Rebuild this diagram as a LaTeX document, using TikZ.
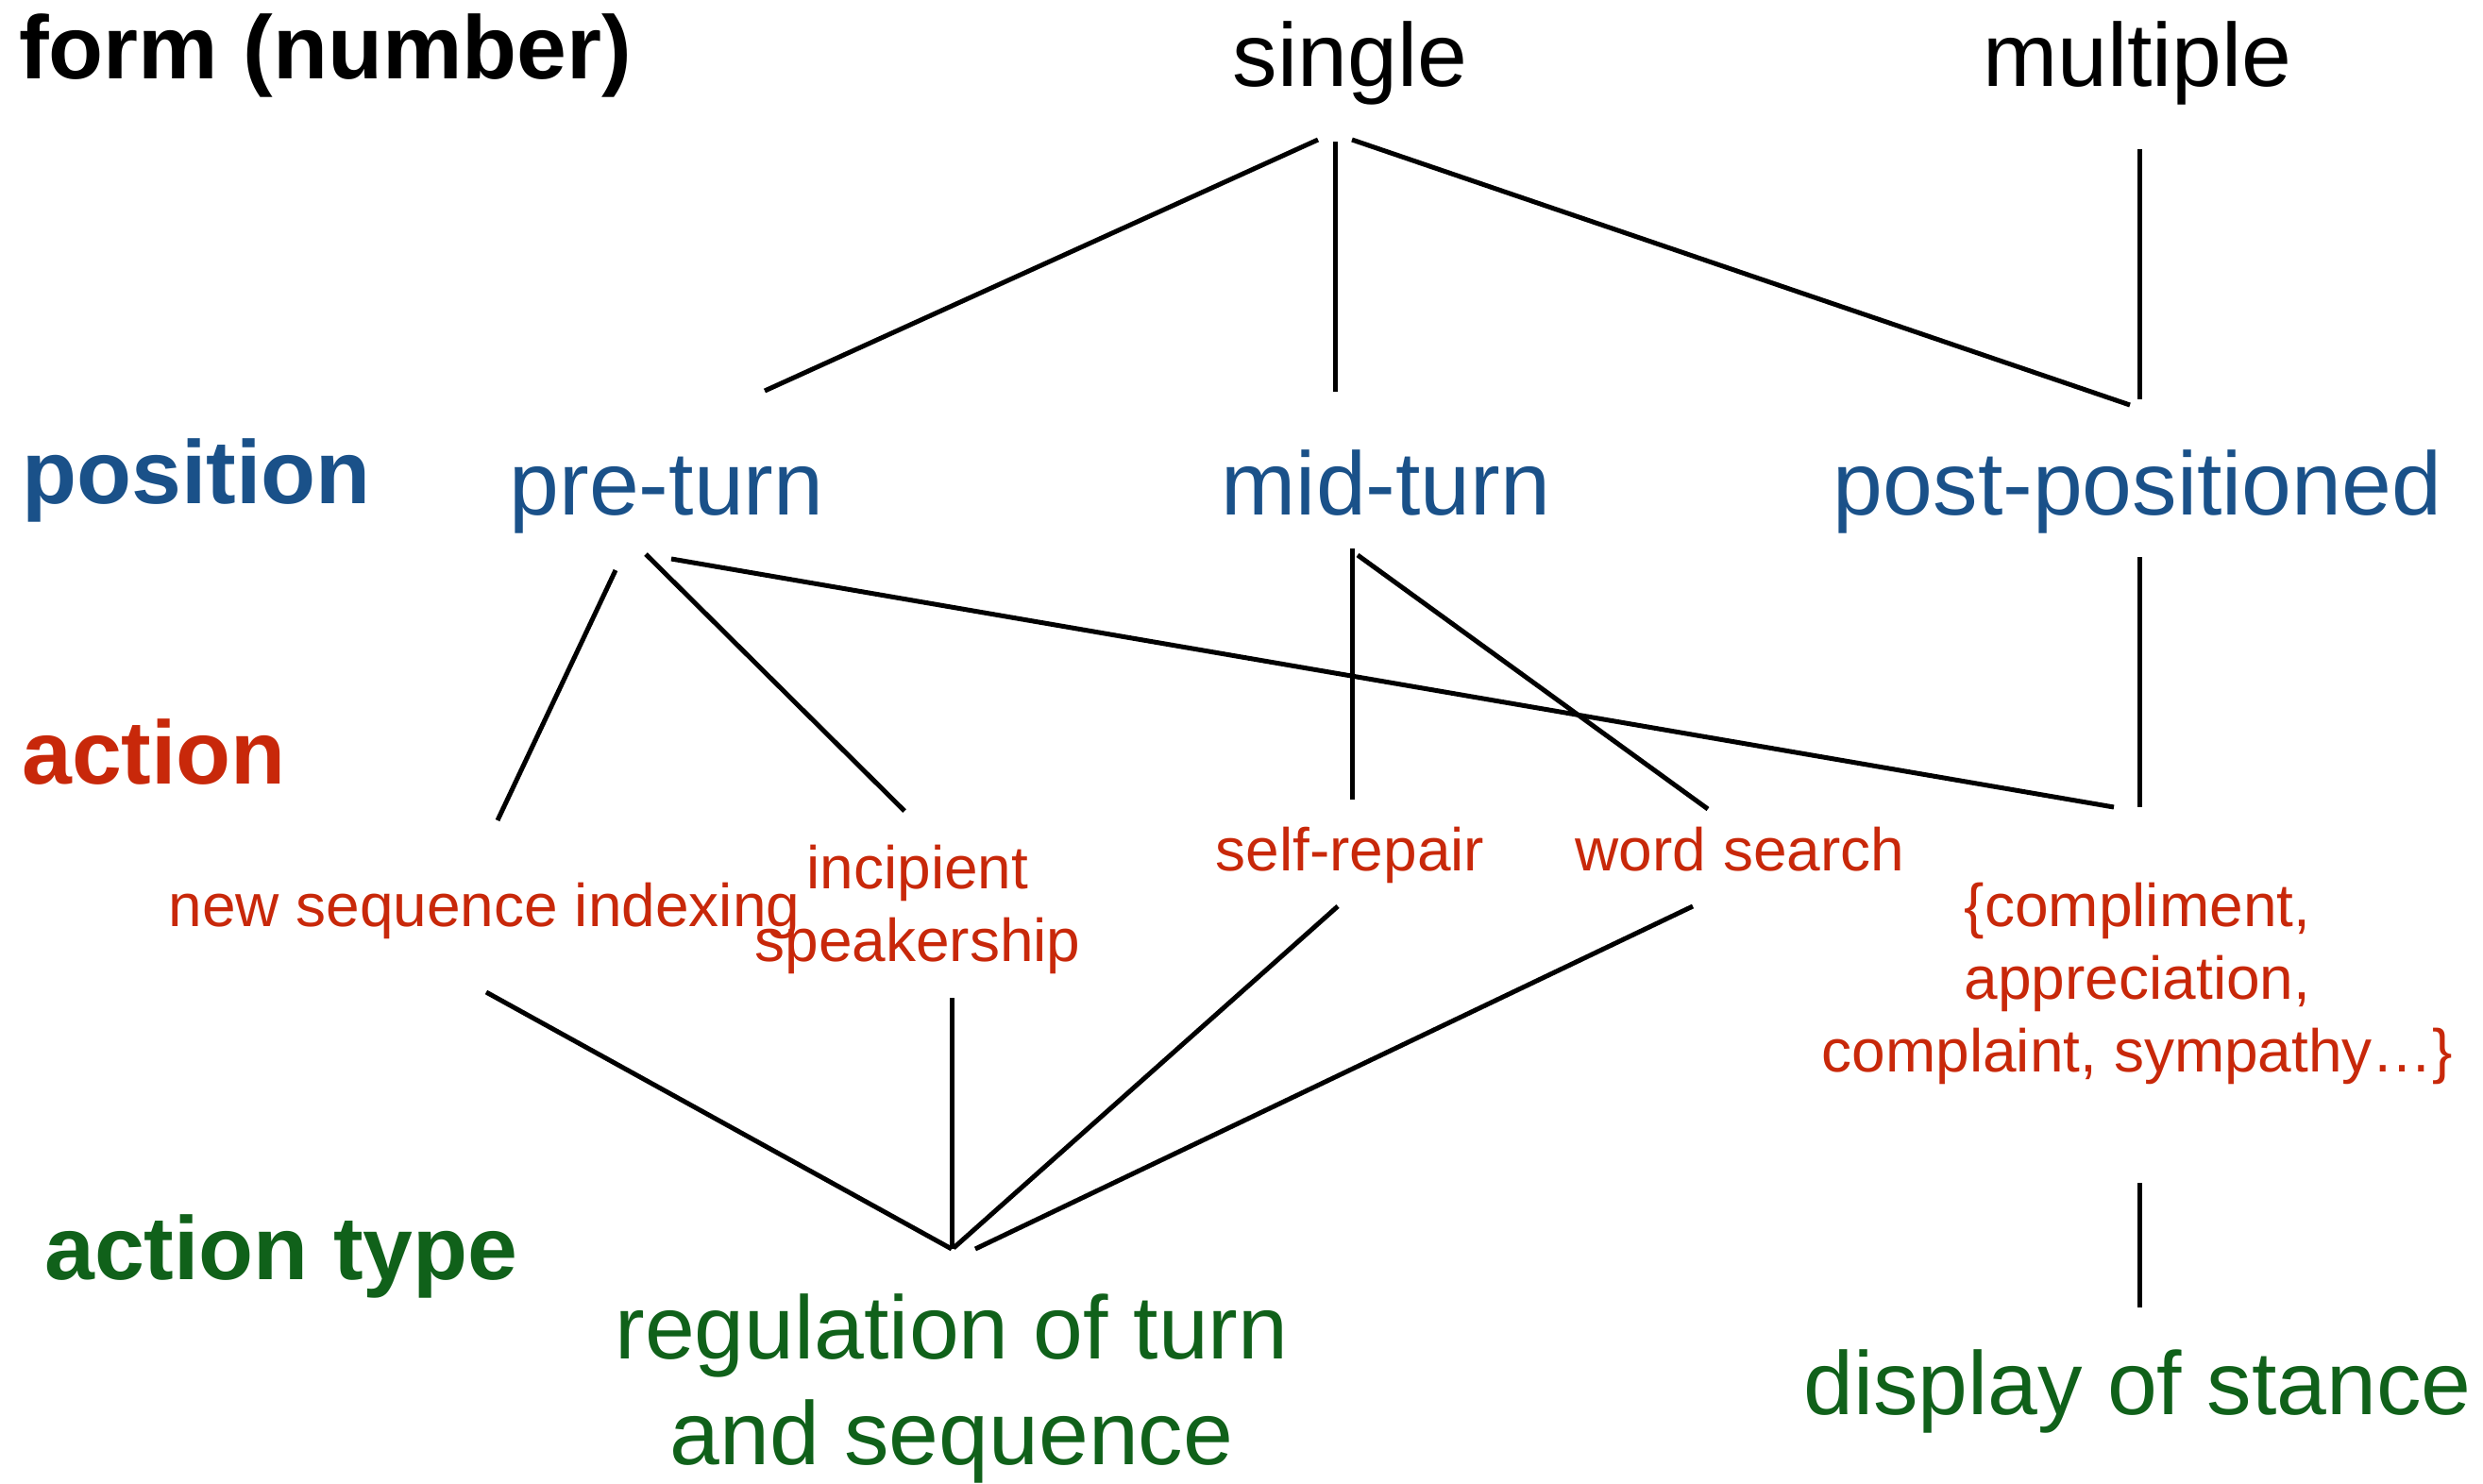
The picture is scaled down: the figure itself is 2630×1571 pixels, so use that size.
\documentclass[tikz,border=0pt]{standalone}
\usepackage{fontspec}
\setmainfont{Liberation Sans}
\definecolor{posblue}{HTML}{1A5189}
\definecolor{actred}{HTML}{C8280A}
\definecolor{typegreen}{HTML}{10611A}
\tikzset{
  levellabel/.style={anchor=base west, inner sep=0pt, font=\bfseries\fontsize{95}{112}\selectfont},
  bigword/.style={anchor=base, inner sep=0pt, align=center, font=\fontsize{95}{112}\selectfont},
  smallword/.style={anchor=base, inner sep=0pt, align=center, text=actred, font=\fontsize{64}{77}\selectfont},
  link/.style={line width=5pt}
}
\begin{document}
\begin{tikzpicture}[x=1pt, y=-1pt]
\useasboundingbox (0,0) rectangle (2630,1571);
\node[levellabel] (lform) at (20,84){form (number)};
\node[levellabel, text=posblue] (lpos) at (23,533){position};
\node[levellabel, text=actred] (lact) at (23,830){action};
\node[levellabel, text=typegreen] (ltype) at (47,1355){action type};
\node[bigword] (single) at (1430,92){single};
\node[bigword] (multiple) at (2264,92){multiple};
\node[bigword, text=posblue] (preturn) at (706,545){pre-turn};
\node[bigword, text=posblue] (midturn) at (1468,545){mid-turn};
\node[bigword, text=posblue] (postpos) at (2264,545){post-positioned};
\node[smallword] (newseq) at (513,981){new sequence indexing};
\node[smallword] (incip) at (972,1018){incipient\\speakership};
\node[smallword] (selfrep) at (1430,922){self-repair};
\node[smallword] (wordsearch) at (1843,922){word search};
\node[smallword] (acts) at (2264,1135){\{compliment,\\appreciation,\\complaint, sympathy…\}};
\node[bigword, text=typegreen] (regul) at (1008,1551){regulation of turn\\and sequence};
\node[bigword, text=typegreen] (stance) at (2264,1498){display of stance};
\draw[link] ([xshift=-34pt,yshift=-56pt]single.base) -- ([xshift=104pt,yshift=131pt]preturn.base);
\draw[link] ([xshift=-16pt,yshift=-58pt]single.base) -- ([xshift=-54pt,yshift=130pt]midturn.base);
\draw[link] ([xshift=2pt,yshift=-56pt]single.base) -- ([xshift=-8pt,yshift=116pt]postpos.base);
\draw[link] ([xshift=2pt,yshift=-66pt]multiple.base) -- ([xshift=2pt,yshift=122pt]postpos.base);
\draw[link] ([xshift=-54pt,yshift=-59pt]preturn.base) -- ([xshift=14pt,yshift=112pt]newseq.base);
\draw[link] ([xshift=-22pt,yshift=-42pt]preturn.base) -- ([xshift=-14pt,yshift=159pt]incip.base);
\draw[link] ([xshift=5pt,yshift=-47pt]preturn.base) -- ([xshift=-25pt,yshift=280pt]acts.base);
\draw[link] ([xshift=-36pt,yshift=-36pt]midturn.base) -- ([xshift=2pt,yshift=75pt]selfrep.base);
\draw[link] ([xshift=-30pt,yshift=-43pt]midturn.base) -- ([xshift=-34pt,yshift=65pt]wordsearch.base);
\draw[link] ([xshift=2pt,yshift=-45pt]postpos.base) -- ([xshift=2pt,yshift=280pt]acts.base);
\draw[link] ([xshift=2pt,yshift=-70pt]newseq.base) -- ([xshift=0pt,yshift=228pt]regul.base);
\draw[link] ([xshift=36pt,yshift=-39pt]incip.base) -- ([xshift=0pt,yshift=228pt]regul.base);
\draw[link] ([xshift=-13pt,yshift=-38pt]selfrep.base) -- ([xshift=2pt,yshift=229pt]regul.base);
\draw[link] ([xshift=-50pt,yshift=-38pt]wordsearch.base) -- ([xshift=25pt,yshift=228pt]regul.base);
\draw[link] ([xshift=2pt,yshift=-118pt]acts.base) -- ([xshift=2pt,yshift=113pt]stance.base);

\end{tikzpicture}
\end{document}
